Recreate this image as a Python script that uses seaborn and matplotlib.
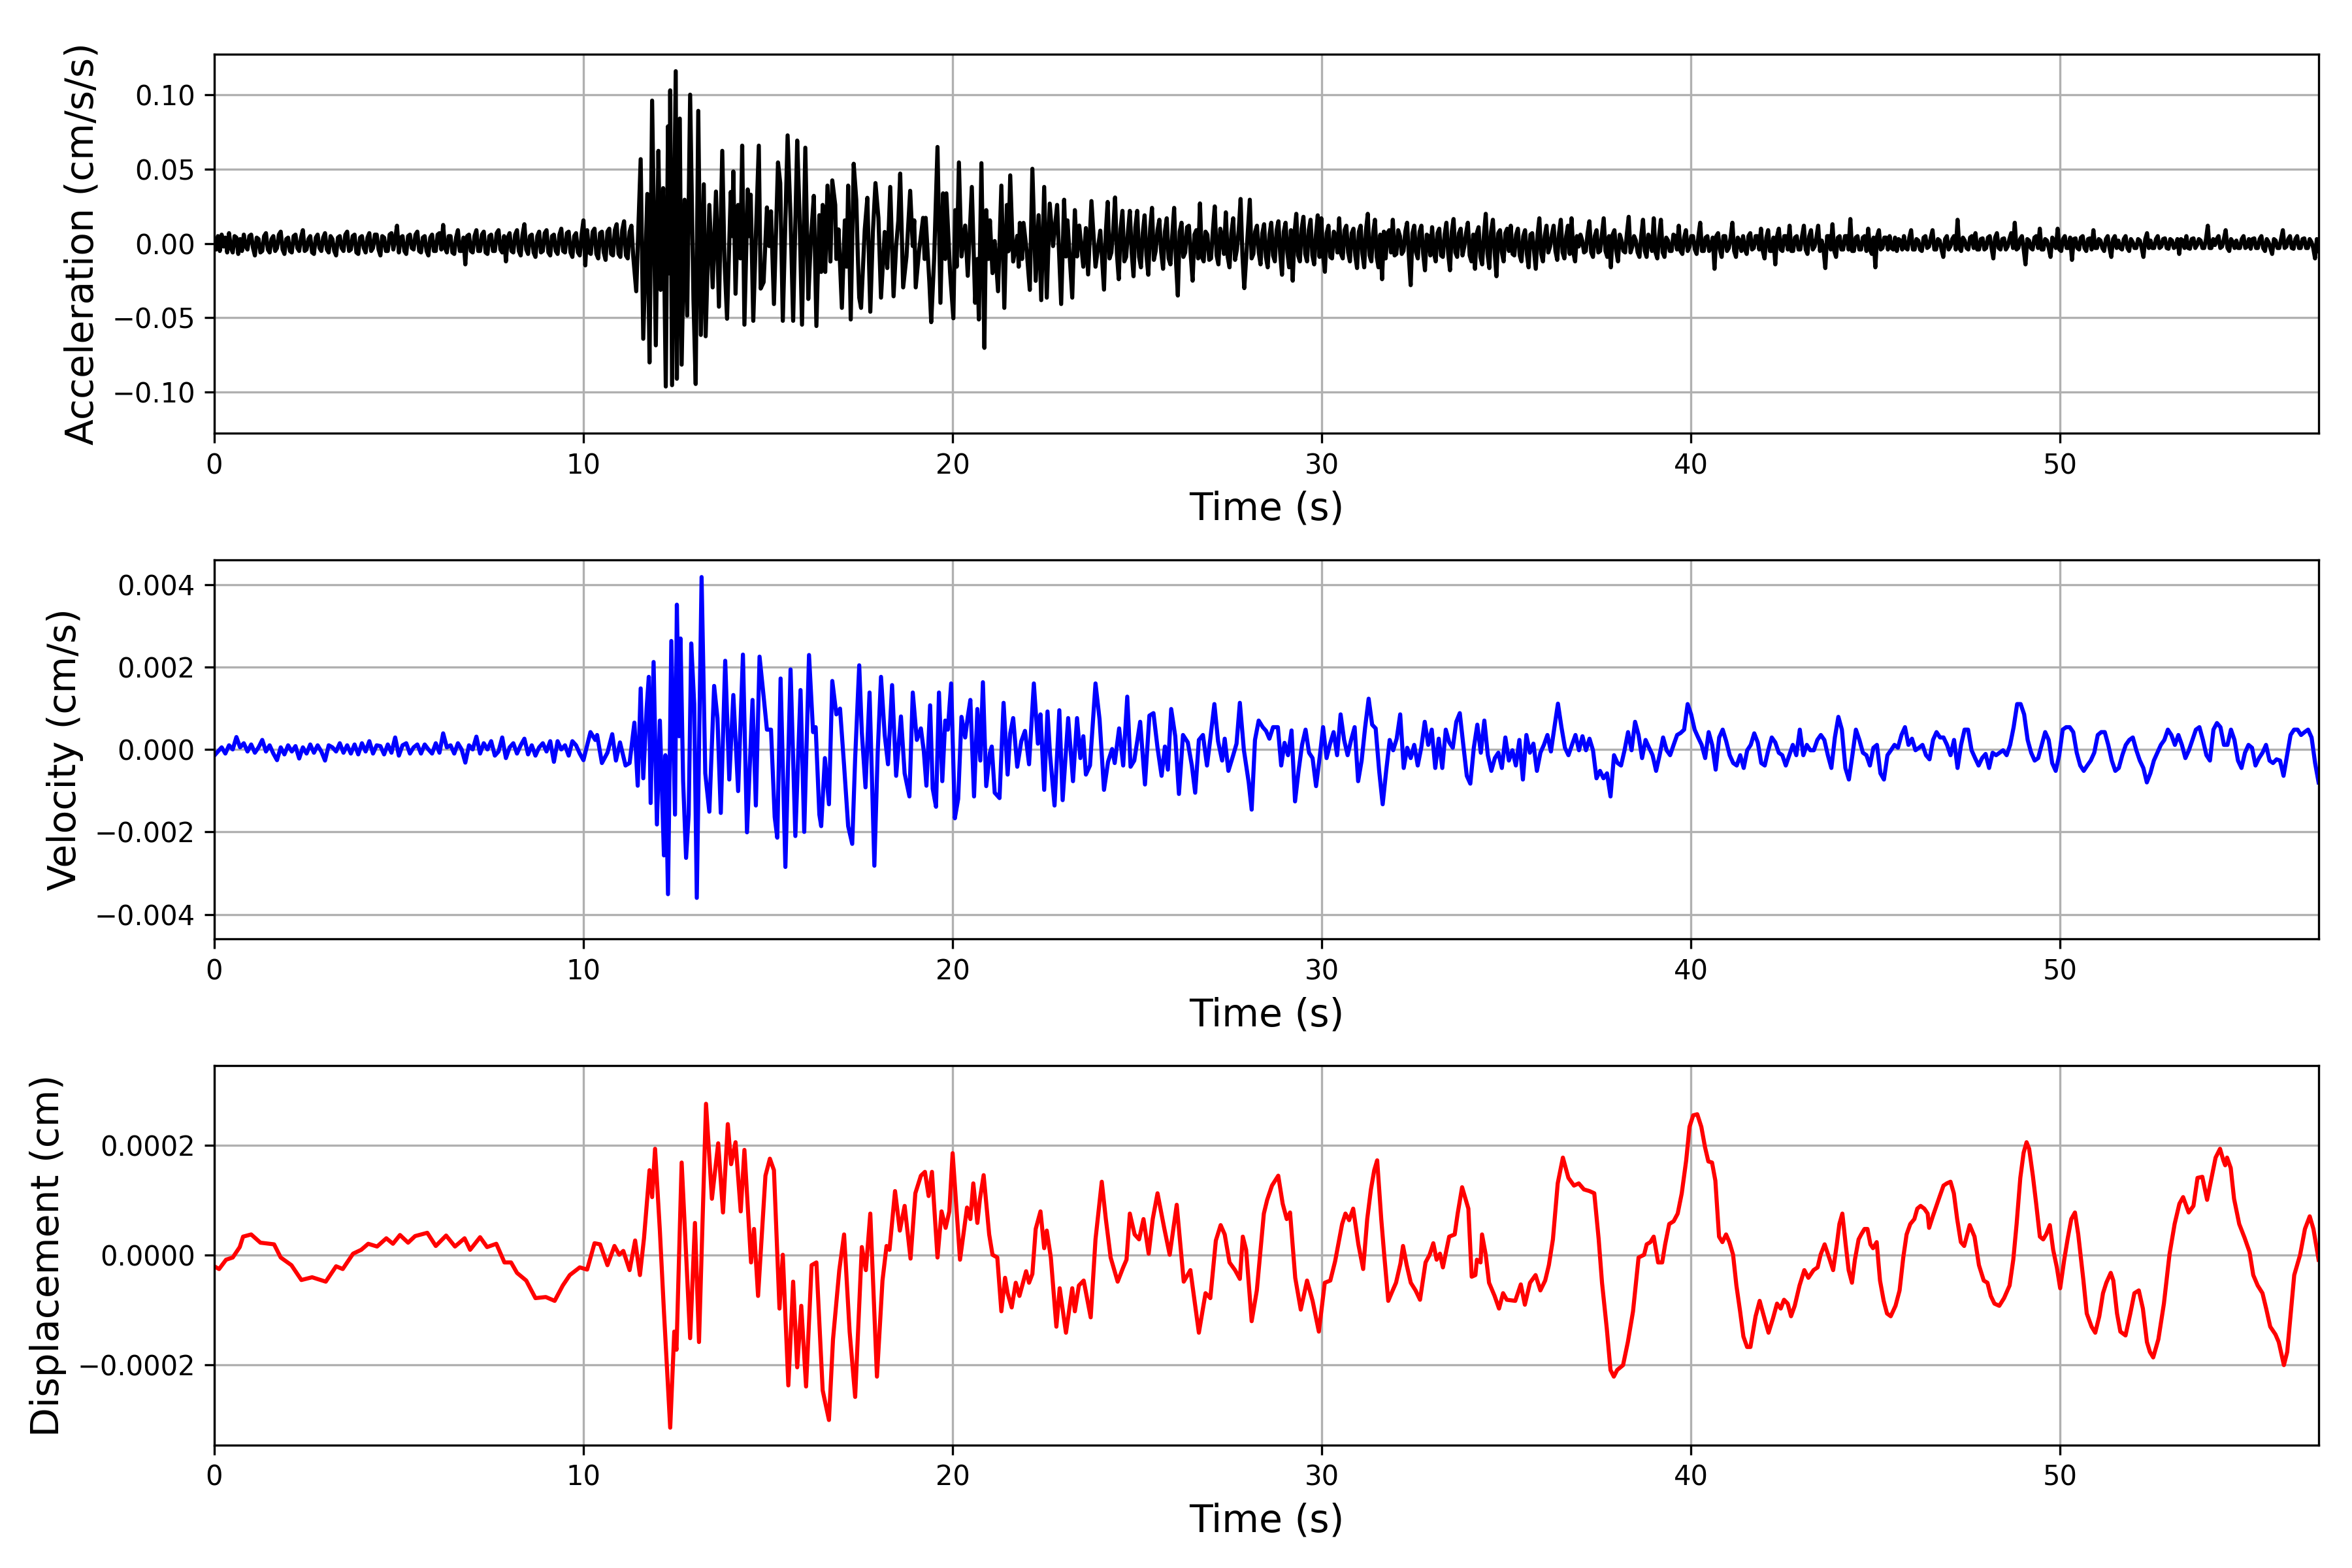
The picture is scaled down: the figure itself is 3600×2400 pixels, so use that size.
import numpy as np
import matplotlib
matplotlib.use("Agg")
import matplotlib.pyplot as plt
import seaborn as sns

# ---------------- acceleration (values in 0.01 cm/s/s) ----------------
# quiet part before the arrival, one value every 0.05 s from t = 0
acc_pre = [
    0.3, -0.4, 0.5, -0.5, 0.6, -0.2, 0.4, -0.6, 0.7, -0.3, -0.6, 0.5, 0.4, -0.7, 0.3, -0.5, 0.6, -0.2, -0.4, 0.5,
    0.6, -0.3, -0.8, 0.4, 0.3, -0.6, -0.5, 0.5, 0.7, -0.4, -0.6, 0.3, 0.5, -0.5, -0.3, 0.6, 0.8, -0.4, -0.7, 0.3,
    0.4, -0.5, -0.6, 0.5, 0.6, -0.3, -0.5, 0.4, 0.9, -0.5, -0.4, 0.3, 0.5, -0.6, -0.7, 0.4, 0.6, -0.3, -0.5, 0.4,
    0.7, -0.4, -0.6, 0.5, 0.3, -0.5, -0.8, 0.4, 0.5, -0.3, -0.5, 0.6, 0.8, -0.5, -0.4, 0.5, 0.6, -0.6, -0.7, 0.4,
    0.5, -0.3, -0.6, 0.4, 0.7, -0.5, -0.3, 0.6, 0.6, -0.4, -0.8, 0.5, 0.4, -0.5, -0.5, 0.6, 0.7, -0.4, 0.3, 1.2,
    -0.6, 0.4, 0.5, -0.5, -0.7, 0.5, 0.6, -0.3, -0.4, 0.6, 0.8, -0.5, -0.6, 0.4, 0.5, -0.5, -0.8, 0.4, 0.6, -0.5,
    -0.5, 0.6, 0.7, -0.4, 1.25, -0.3, -0.6, 0.5, 0.5, -0.6, -0.7, 0.4, 0.9, -0.5, -0.5, 0.4, -1.4, 0.5, 0.6, -0.5,
    -0.6, 0.5, 0.9, -0.5, -0.5, 0.6, 0.8, -0.6, -0.7, 0.5, 0.6, -0.5, -0.5, 0.7, 0.9, -0.4, -0.6, 0.5, -1.2, 0.4,
    0.7, -0.5, -0.6, 0.6, 0.9, -0.5, -0.8, 0.6, 1.3, -0.4, -0.7, 0.5, 0.6, -0.6, -0.9, 0.5, 0.8, -0.6, -0.5, 0.7,
    0.9, -0.6, -0.8, 0.5, 0.6, -0.5, -0.7, 0.6, 1.0, -0.5, -0.6, 0.7, 0.8, -0.6, -0.9, 0.5, 0.7, -0.6, -0.8, 0.6,
    1.56, -1.47, 0.9, -0.6, -0.7, 0.8, 1.0, -0.7, -1.0, 0.7, 0.8, -0.6, -1.1, 0.8, 1.0, -0.7, -0.8, 0.9, 1.3, -0.7,
    -0.9, 0.9, 1.5, -0.8, -1.0, 0.8, 1.2, -0.9,
]

# strong motion, (time, value) peaks
acc_event = [
    (11.43, -3.21), (11.55, 5.68), (11.62, -6.41), (11.73, 3.34), (11.79, -8.0),
    (11.86, 9.62), (11.96, -6.85), (12.03, 6.24), (12.09, -3.12), (12.16, 3.73),
    (12.23, -9.62), (12.29, 7.89), (12.32, -2.0), (12.35, 10.31), (12.40, -9.53),
    (12.50, 11.6), (12.53, -9.1), (12.61, 8.41), (12.66, -8.15), (12.74, 2.95),
    (12.81, -4.85), (12.89, 10.02), (12.98, -3.81), (13.04, -9.45), (13.11, 8.93),
    (13.18, -6.15), (13.26, 3.99), (13.31, -6.24), (13.41, 2.6), (13.5, -2.95),
    (13.59, 3.5), (13.67, -4.25), (13.76, 6.24), (13.82, -1.13), (13.89, -5.06),
    (13.99, 3.47), (14.03, 0.5), (14.06, 4.85), (14.12, -3.38), (14.19, 2.6),
    (14.25, -1.0), (14.3, 6.59), (14.36, -5.46), (14.45, 3.64), (14.49, 0.5),
    (14.53, 3.29), (14.6, -5.2), (14.67, 0.52), (14.75, 6.59), (14.8, -3.03),
    (14.88, -2.6), (14.97, 2.43), (15.03, -0.17), (15.08, 2.17), (15.16, -4.07),
    (15.27, 5.46), (15.33, 4.07), (15.4, -5.2), (15.53, 7.28), (15.61, 1.73),
    (15.68, -5.2), (15.79, 6.93), (15.85, 2.25), (15.92, -5.46), (16.01, 6.45),
    (16.09, -3.73), (16.16, 0.26), (16.24, 3.21), (16.31, -5.55), (16.39, 1.91),
    (16.44, -1.91), (16.48, 2.6), (16.55, -1.91), (16.61, 3.9), (16.69, -1.21),
    (16.74, 4.25), (16.82, 2.6), (16.85, -1.04), (16.91, 0.95), (17.0, -4.33),
    (17.08, 1.56), (17.13, -1.56), (17.17, 3.9), (17.24, -5.11), (17.32, 5.37),
    (17.39, 2.95), (17.43, -0.69), (17.47, -3.64), (17.52, -4.33), (17.62, 0.95),
    (17.69, 3.08), (17.77, -4.59), (17.84, 0.78), (17.91, 4.07), (17.99, 1.73),
    (18.06, -3.64), (18.16, 0.78), (18.23, -1.65), (18.31, 3.81), (18.4, -3.55),
    (18.47, -0.17), (18.53, 1.56), (18.58, 4.71), (18.66, -2.95), (18.75, -0.87),
    (18.85, 3.55), (18.92, -0.17), (18.96, 1.56), (19.0, -2.95), (19.09, -0.52),
    (19.2, 1.73), (19.24, -1.04), (19.27, 1.73), (19.37, -2.6), (19.42, -5.29),
    (19.5, -0.95), (19.59, 6.5), (19.67, -3.99), (19.74, 3.38), (19.8, -1.04),
    (19.83, 3.38), (19.93, -1.91), (20.02, -5.03), (20.07, 2.25), (20.11, -1.56),
    (20.17, 5.46), (20.24, -0.87), (20.34, 1.21), (20.41, -2.17), (20.52, 3.81),
    (20.61, -3.99), (20.67, -1.04), (20.71, -5.11), (20.78, 5.41), (20.86, -7.02),
    (20.91, 2.25), (20.97, -1.04), (21.01, 1.56), (21.08, -1.99), (21.14, 0.17),
    (21.23, -3.21), (21.32, 3.9), (21.4, -4.33), (21.47, 2.6), (21.51, -0.52),
    (21.56, 4.59), (21.64, -1.21), (21.75, 0.52), (21.79, -1.56), (21.82, 1.39),
    (21.88, -1.04), (21.92, 1.39), (22.01, -0.61), (22.09, -3.12), (22.16, 5.03),
    (22.25, -2.51), (22.33, 1.91), (22.4, -3.81), (22.48, 3.81), (22.55, -3.64),
    (22.63, 2.69), (22.72, -0.17), (22.83, 2.6), (22.89, -1.04), (22.94, -4.07),
    (23.02, 2.95), (23.07, -0.87), (23.11, 1.56), (23.24, -3.64), (23.31, 2.25),
    (23.37, -0.87), (23.43, 1.21), (23.54, -1.56), (23.61, 1.04), (23.67, -2.08),
    (23.76, 2.86), (23.87, -1.56), (24.0, 0.87),
]

# one value every 0.05 s from t = 24.1
acc_mid = [
    -3.1, 0.8, 2.8, -1.0, -0.6, 0.9, 3.1, -0.7, -2.4, 1.0, 2.2, -1.2, -0.9, 0.8, 2.2, -0.6, -2.2, 1.1, 2.2, -0.9,
    -1.6, 0.7, 1.9, -0.8, -2.1, 1.0, 2.4, -1.1, -0.5, 0.9, 1.6, -0.6, -1.7, 0.8, 1.7, -1.0, -1.4, 0.6, 2.4, -1.2,
    -3.5, 0.8, 1.4, -0.9, -0.6, 1.1, 1.2, -0.8, -2.5, 0.6, 0.9, -1.0, 2.7, -0.9, -1.2, 0.8, 0.6, -1.1, -1.0, 0.9,
    2.5, -0.8, -1.4, 1.0, 0.4, -0.7, 2.1, -0.9, -1.6, 0.7, 1.7, -1.1, -0.4, 0.9, 3.0, -0.8, -3.0,
]

# coda, evenly spaced from t = 28.05 to the end of the record
acc_tail = [
    2.95, -1.0, -0.7, 0.8, 1.2, -0.6, -1.4, 0.7, 1.3, -0.9, -1.6, 0.6, 1.4, -0.8, -1.2, 0.9, 1.5, -0.7, -2.1, 0.8,
    1.4, -0.6, -1.6, 0.9, -2.5, 0.7, 2.0, -0.8, -1.2, 1.0, 1.8, -0.7, -1.2, 0.9, 1.6, -0.8, -1.4, 0.6, 1.9, -0.9,
    1.7, -0.8, -1.9, 0.7, 1.2, -0.9, -1.0, 0.8, 0.5, -0.6, 1.7, -0.7, -1.0, 0.9, 1.2, -0.6, -1.2, 0.7, 1.0, -0.8,
    -1.65, 0.8, 1.2, -0.7, -1.6, 0.9, 2.0, -0.8, -1.2, 0.7, 1.6, -0.9, -1.6, 0.6, -2.4, 0.8, -1.0, 0.7, 0.9, -0.6,
    1.6, -0.8, -0.7, 0.9, 0.5, -0.7, -0.5, 0.8, 1.4, -0.9, -2.8, 0.7, 1.2, -0.6, -1.0, 0.8, 1.2, -0.7, -1.8, 0.6,
    0.5, -0.8, 1.1, -0.6, -1.2, 0.7, 1.0, -0.8, -0.9, 0.6, 1.4, -0.7, -1.8, 0.8, 1.65, -0.6, -0.9, 0.7, 1.0, -0.8,
    -0.2, 0.7, 1.4, -0.8, -1.2, 0.6, -1.7, 0.7, 1.1, -0.9, -1.4, 0.6, 2.0, -0.7, -1.65, 0.8, 1.6, -0.6, -2.2, 0.7,
    0.9, -0.6, -1.2, 0.7, 1.0, -0.5, 1.2, -0.7, -0.8, 0.6, 1.0, -0.8, -1.2, 0.5, 0.9, -0.7, -1.6, 0.6, 0.7, -0.5,
    -1.7, 0.6, 1.7, -0.7, -1.2, 0.5, 1.2, -0.6, -0.2, 0.6, 1.2, -0.5, -1.1, 0.7, 1.6, -0.6, -1.0, 0.5, 1.2, -0.7,
    1.7, -0.6, -1.2, 0.5, -0.2, 0.6, 0.2, -0.6, -0.5, 0.7, 1.5, -0.6, -0.9, 0.5, 0.9, -0.6, -0.5, 0.6, 1.7, -0.5,
    -0.9, 0.5, -1.6, 0.6, 0.9, -0.5, -1.2, 0.6, 0.2, -0.5, -0.6, 0.7, 1.8, -0.6, -0.2, 0.5, 0.2, -0.6, -0.9, 0.5,
    1.6, -0.5, -0.9, 0.6, 0.2, -0.5, 1.7, -0.6, -1.0, 0.5, 1.6, -0.6, -0.9, 0.4, 0.2, -0.5, -0.5, 0.6, 0.5, -0.4,
    1.2, -0.5, -0.7, 0.4, 0.9, -0.5, -0.2, 0.5, 0.5, -0.4, -0.7, 0.5, 1.4, -0.5, -0.5, 0.4, 0.5, -0.5, -0.2, 0.4,
    -1.7, 0.5, 0.7, -0.4, -0.9, 0.5, 0.5, -0.5, -0.3, 0.4, 1.4, -0.5, -0.9, 0.4, 0.2, -0.5, 0.5, -0.4, -0.7, 0.5,
    0.7, -0.4, -0.3, 0.5, 0.5, -0.4, 1.0, -0.5, -1.0, 0.4, 0.9, -0.5, -0.5, 0.4, -1.4, 0.5, 1.0, -0.4, -0.5, 0.5,
    0.5, -0.4, 1.2, -0.5, -0.5, 0.4, 0.5, -0.4, -0.4, 0.5, 1.2, -0.4, -0.7, 0.5, 0.9, -0.4, -0.2, 0.4, 1.2, -0.5,
    0.2, -0.4, -1.65, 0.5, 0.5, -0.4, 1.3, -0.5, -0.9, 0.4, 0.5, -0.4, -0.4, 0.5, 0.5, -0.4, 1.65, -0.5, -0.5, 0.4,
    0.5, -0.4, -0.4, 0.4, 0.5, -0.5, 1.0, -0.4, -0.7, 0.4, -1.6, 0.5, 0.9, -0.4, -0.3, 0.4, 0.4, -0.4, 0.5, -0.3,
    -0.4, 0.4, -0.5, 0.3, 0.2, -0.4, 0.5, -0.3, -0.4, 0.4, 0.9, -0.4, -0.4, 0.3, 0.2, -0.4, -0.5, 0.4, 0.5, -0.3,
    -0.2, 0.4, 0.9, -0.4, -0.4, 0.3, 0.2, -0.4, -0.9, 0.3, 0.5, -0.4, -0.2, 0.3, 0.5, -0.4, 1.6, -0.3, -0.5, 0.4,
    0.2, -0.3, -0.4, 0.4, 0.5, -0.3, 0.7, -0.4, -0.4, 0.3, 0.35, -0.4, -0.3, 0.4, 0.5, -0.3, -1.0, 0.4, 0.7, -0.3,
    -0.4, 0.3, 0.35, -0.4, -0.2, 0.3, 0.7, -0.3, 1.4, -0.4, -0.3, 0.3, 0.5, -0.4, -1.4, 0.3, 0.2, -0.3, -0.4, 0.4,
    0.5, -0.3, 1.0, -0.4, -0.4, 0.3, 0.2, -0.3, -0.9, 0.4, 0.2, -0.3, 1.0, -0.4, -0.5, 0.3, 0.5, -0.3, -0.3, 0.4,
    -1.1, 0.3, 0.35, -0.3, -0.4, 0.4, 0.5, -0.3, -0.5, 0.3, 0.35, -0.4, 0.9, -0.3, -0.3, 0.3, 0.2, -0.3, -0.5, 0.3,
    0.5, -0.3, -0.9, 0.3, 0.5, -0.3, 0.2, -0.3, -0.4, 0.3, 0.5, -0.3, -0.5, 0.3, 0.1, -0.3, -0.3, 0.3, 0.2, -0.3,
    -0.9, 0.3, 0.7, -0.3, 0.2, -0.3, -0.3, 0.3, 0.5, -0.3, -0.2, 0.3, 0.35, -0.3, -0.35, 0.3, 0.2, -0.3, -0.2, 0.3,
    -0.7, 0.3, 0.2, -0.3, 0.5, -0.3, -0.35, 0.3, 0.35, -0.3, -0.1, 0.3, 0.2, -0.3, -0.3, 0.3, 1.2, -0.3, -0.3, 0.3,
    -0.1, 0.3, 0.5, -0.3, -0.2, 0.3, 0.9, -0.3, -0.5, 0.3, 0.1, -0.3, 0.2, -0.3, -0.3, 0.3, 0.5, -0.3, -0.2, 0.3,
    -0.35, 0.3, 0.35, -0.3, -0.3, 0.3, 0.5, -0.3, -0.5, 0.3, 0.1, -0.3, -0.7, 0.3, 0.2, -0.3, -0.3, 0.3, 0.9, -0.3,
    -0.2, 0.3, 0.5, -0.3, -0.35, 0.3, 0.5, -0.3, -0.3, 0.3, 0.35, -0.3, -0.3, 0.3, 0.1, -0.3, -1.0, 0.3, -0.5,
]

# ---------------- velocity (values in 0.001 cm/s) ----------------
# one value every 0.1 s from t = 0
vel_pre = [
    -0.15, -0.05, 0.05, -0.1, 0.1, 0.0, 0.3, 0.05, 0.15, -0.05,
    0.12, -0.08, 0.05, 0.23, -0.05, 0.1, -0.1, -0.26, 0.05, -0.12,
    0.1, -0.05, 0.08, -0.22, 0.05, -0.1, 0.12, -0.08, 0.1, -0.05,
    -0.27, 0.1, 0.05, -0.05, 0.15, -0.08, 0.1, -0.1, 0.12, -0.12,
    0.15, -0.05, 0.2, -0.1, 0.1, 0.08, -0.12, 0.12, -0.08, 0.29,
    -0.15, 0.1, 0.15, -0.1, 0.05, 0.12, -0.1, 0.12, 0.0, -0.1,
    0.15, -0.08, 0.39, 0.05, 0.1, -0.1, 0.15, 0.0, -0.32, 0.1,
    0.0, 0.31, -0.1, 0.15, 0.0, 0.2, -0.15, -0.05, 0.29, -0.21,
    0.05, 0.15, -0.1, 0.1, 0.26, -0.12, 0.1, -0.15, 0.05, 0.15,
    -0.05, 0.2, -0.3, 0.2, 0.0, 0.1, -0.15, 0.2, 0.1, -0.1,
    -0.26,
]

vel_event = [
    (10.19, 0.42), (10.32, 0.23), (10.37, 0.35), (10.5, -0.33), (10.65, -0.08),
    (10.78, 0.37), (10.88, -0.27), (10.99, 0.17), (11.14, -0.39), (11.25, -0.33),
    (11.38, 0.65), (11.47, -0.88), (11.55, 1.48), (11.62, -0.70), (11.71, 0.98),
    (11.77, 1.76), (11.82, -1.30), (11.9, 2.12), (11.99, -1.82), (12.07, 0.70),
    (12.18, -2.57), (12.22, -0.14), (12.29, -3.51), (12.38, 2.63), (12.48, -1.58),
    (12.53, 3.51), (12.59, 0.32), (12.63, 2.69), (12.7, -0.77), (12.78, -2.63),
    (12.85, -1.58), (12.92, 2.57), (13.0, 1.10), (13.07, -3.60), (13.2, 4.18),
    (13.3, -0.58), (13.41, -1.51), (13.54, 1.54), (13.63, 0.76), (13.72, -1.54),
    (13.84, 2.15), (13.95, -0.73), (14.06, 1.32), (14.19, -1.01), (14.32, 2.30),
    (14.43, -2.01), (14.58, 1.20), (14.67, -1.36), (14.77, 2.25), (14.88, 1.29),
    (14.97, 0.48), (15.08, 0.48), (15.18, -1.64), (15.25, -2.14), (15.34, 1.72),
    (15.47, -2.85), (15.61, 1.94), (15.74, -2.10), (15.88, 1.44), (15.98, -2.0),
    (16.11, 2.29), (16.22, 0.42), (16.29, 0.54), (16.39, -1.58), (16.44, -1.86),
    (16.54, -0.21), (16.65, -1.33), (16.74, 1.66), (16.85, 0.85), (16.95, 0.99),
    (17.06, -0.39), (17.17, -1.86), (17.28, -2.29), (17.36, -0.21), (17.47, 2.04),
    (17.54, 0.42), (17.64, -0.92), (17.75, 1.38), (17.88, -2.82), (17.97, -0.08),
    (18.06, 1.76), (18.16, 0.35), (18.25, -0.36), (18.36, 1.56), (18.47, -0.64),
    (18.6, 0.80), (18.7, -0.58), (18.83, -1.14), (18.92, 1.38), (19.03, 0.23),
    (19.14, 0.51), (19.22, -0.05), (19.29, -0.88), (19.39, 1.07), (19.46, -0.95),
    (19.55, -1.39), (19.63, 1.38), (19.72, -0.77), (19.8, 0.70), (19.87, 0.48),
    (19.96, 1.60), (20.06, -1.67), (20.15, -1.20), (20.24, 0.79), (20.34, 0.29),
    (20.41, 0.79), (20.48, 1.20), (20.58, -1.14), (20.67, 0.98), (20.75, -0.27),
    (20.82, 1.63), (20.91, -0.89), (21.01, -0.08), (21.06, 0.07), (21.14, -1.05),
    (21.27, -1.18), (21.38, 1.13), (21.49, -0.61), (21.56, 0.39), (21.64, 0.76),
    (21.75, -0.42), (21.86, 0.20), (21.96, 0.45), (22.07, -0.36), (22.2, 1.60),
    (22.31, 0.14), (22.38, 0.85), (22.48, -0.98), (22.57, 0.92), (22.64, -0.14),
    (22.76, -1.36), (22.89, 0.95), (22.98, -1.23), (23.13, 0.76), (23.26, -0.77),
    (23.37, 0.76), (23.46, -0.21), (23.54, 0.32), (23.61, -0.61), (23.72, -0.39),
    (23.87, 1.60), (23.98, 0.73), (24.1, -0.98), (24.21, -0.30), (24.32, 0.01),
    (24.39, -0.33), (24.51, 0.51), (24.62, -0.39), (24.73, 1.28), (24.82, -0.42),
    (24.92, -0.27), (24.99, 0.14), (25.08, 0.67), (25.21, -0.85), (25.33, 0.82),
    (25.44, 0.88), (25.55, 0.04), (25.66, -0.64), (25.75, 0.07), (25.83, -0.49),
    (25.92, 0.98), (26.03, 0.32), (26.13, -1.08), (26.24, 0.35), (26.37, 0.17),
    (26.48, -0.39), (26.57, -1.05), (26.67, 0.23), (26.78, 0.35), (26.89, -0.39),
    (26.98, 0.26), (27.09, 1.10), (27.19, 0.20), (27.3, -0.27), (27.37, 0.26),
    (27.47, -0.52), (27.6, -0.14), (27.69, 0.14), (27.78, 1.13), (27.89, -0.02),
    (28.02, -0.80), (28.1, -1.46), (28.19, 0.23), (28.29, 0.70), (28.4, 0.54),
    (28.49, 0.45), (28.58, 0.26), (28.68, 0.54), (28.81, 0.54), (28.9, -0.39),
]

# evenly spaced from t = 28.99 to the end of the record
vel_tail = [
    0.16, -0.14, 0.46, -1.26, -0.52, 0.11, 0.48, -0.08, -0.21, -0.89,
    -0.21, 0.54, -0.21, 0.14, 0.42, -0.14, 0.85, 0.23, -0.14, 0.23,
    0.54, -0.77, -0.27, 0.54, 1.23, 0.60, 0.51, -0.52, -1.33, -0.52,
    0.23, -0.02, 0.26, 0.85, -0.45, 0.04, -0.21, 0.11, -0.39, 0.04,
    0.67, 0.11, 0.48, -0.45, 0.26, -0.45, 0.48, 0.17, 0.04, 0.67,
    0.88, 0.11, -0.64, -0.83, 0.04, 0.60, -0.08, 0.70, -0.14, -0.52,
    -0.21, -0.08, -0.45, 0.29, -0.27, -0.02, -0.39, 0.23, -0.73, 0.35,
    -0.08, 0.14, -0.52, -0.08, 0.11, 0.35, -0.05, 0.54, 1.11, 0.54,
    0.04, -0.14, 0.11, 0.35, -0.02, 0.32, -0.02, 0.26, -0.02, -0.70,
    -0.52, -0.70, -0.58, -1.14, -0.14, -0.33, -0.39, -0.02, 0.42, -0.02,
    0.67, 0.35, -0.21, 0.23, 0.04, -0.14, -0.52, -0.14, 0.29, -0.02,
    -0.14, 0.11, 0.35, 0.40, 0.48, 1.10, 0.85, 0.48, 0.29, 0.11,
    -0.21, 0.42, 0.11, -0.49, 0.29, 0.48, 0.20, -0.14, -0.33, -0.39,
    -0.14, -0.45, -0.02, 0.11, 0.39, 0.17, -0.33, -0.39, -0.02, 0.29,
    0.17, -0.08, -0.14, -0.39, -0.14, 0.11, -0.14, 0.48, -0.14, 0.11,
    -0.02, -0.02, 0.23, 0.35, 0.23, -0.14, -0.45, 0.29, 0.79, 0.48,
    -0.45, -0.73, -0.14, 0.48, 0.23, -0.08, -0.14, -0.39, 0.04, 0.11,
    -0.58, -0.73, -0.14, -0.02, 0.11, 0.04, 0.35, 0.54, 0.11, 0.26,
    -0.02, 0.04, 0.11, -0.14, -0.24, 0.23, 0.42, 0.29, 0.29, 0.11,
    -0.14, 0.23, -0.45, 0.11, 0.48, 0.48, -0.02, -0.21, -0.39, -0.21,
    -0.11, -0.45, -0.08, -0.14, -0.08, -0.02, -0.14, 0.11, 0.54, 1.10,
    1.10, 0.85, 0.23, -0.08, -0.27, -0.21, 0.11, 0.42, 0.23, -0.33,
    -0.52, -0.14, 0.48, 0.54, 0.54, 0.42, -0.08, -0.39, -0.52, -0.39,
    -0.27, -0.08, 0.35, 0.42, 0.42, 0.11, -0.27, -0.52, -0.45, -0.14,
    0.11, 0.23, 0.29, -0.02, -0.27, -0.45, -0.80, -0.58, -0.27, -0.08,
    0.11, 0.23, 0.48, 0.35, 0.11, 0.35, 0.11, -0.21, -0.02, 0.23,
    0.48, 0.54, 0.23, -0.14, -0.27, 0.48, 0.64, 0.54, 0.11, 0.11,
    0.48, 0.23, -0.27, -0.45, -0.08, 0.11, 0.04, -0.39, -0.21, -0.08,
    0.11, -0.27, -0.33, -0.24, -0.27, -0.64, -0.14, 0.35, 0.48, 0.48,
    0.35, 0.42, 0.48, 0.29, -0.33, -0.80,
]

# ---------------- displacement (values in 0.0001 cm) ----------------
disp_pts = [
    (0.0, -0.20), (0.13, -0.25), (0.32, -0.08), (0.5, -0.04), (0.69, 0.15),
    (0.78, 0.34), (1.0, 0.38), (1.25, 0.23), (1.62, 0.20), (1.8, -0.04),
    (2.09, -0.18), (2.36, -0.45), (2.65, -0.40), (3.02, -0.48), (3.3, -0.20),
    (3.48, -0.25), (3.76, 0.03), (3.98, 0.10), (4.17, 0.21), (4.41, 0.16),
    (4.66, 0.31), (4.84, 0.21), (5.03, 0.37), (5.25, 0.23), (5.44, 0.35),
    (5.77, 0.41), (6.0, 0.17), (6.28, 0.36), (6.52, 0.16), (6.78, 0.31),
    (6.93, 0.10), (7.2, 0.33), (7.39, 0.15), (7.64, 0.21), (7.86, -0.13),
    (8.04, -0.13), (8.2, -0.32), (8.45, -0.46), (8.7, -0.78), (8.98, -0.76),
    (9.22, -0.83), (9.44, -0.55), (9.63, -0.36), (9.9, -0.22), (10.1, -0.26),
    (10.3, 0.22), (10.45, 0.20), (10.65, -0.18), (10.84, 0.17), (10.97, 0.01),
    (11.08, 0.08), (11.25, -0.27), (11.4, 0.27), (11.53, -0.36), (11.64, 0.31),
    (11.79, 1.55), (11.86, 1.06), (11.94, 1.94), (12.07, 0.45), (12.18, -1.02),
    (12.35, -3.14), (12.46, -1.39), (12.52, -1.72), (12.66, 1.69), (12.89, -1.51),
    (13.02, 0.59), (13.13, -1.58), (13.32, 2.76), (13.48, 1.03), (13.65, 2.04),
    (13.78, 0.78), (13.91, 2.39), (14.0, 1.66), (14.12, 2.06), (14.26, 0.80),
    (14.36, 1.92), (14.54, -0.13), (14.62, 0.48), (14.73, -0.74), (14.93, 1.45),
    (15.05, 1.76), (15.16, 1.55), (15.31, -0.97), (15.4, 0.01), (15.55, -2.37),
    (15.68, -0.48), (15.79, -2.04), (15.9, -0.92), (16.03, -2.39), (16.18, -0.18),
    (16.31, -0.13), (16.48, -2.46), (16.65, -3.0), (16.76, -1.53), (16.93, -0.27),
    (17.06, 0.38), (17.21, -1.39), (17.36, -2.58), (17.54, 0.15), (17.65, -0.27),
    (17.77, 0.76), (17.95, -2.21), (18.1, -0.46), (18.21, 0.17), (18.29, 0.10),
    (18.44, 1.17), (18.57, 0.45), (18.7, 0.90), (18.86, -0.06), (18.99, 1.13),
    (19.14, 1.45), (19.25, 1.52), (19.35, 1.08), (19.44, 1.52), (19.59, -0.04),
    (19.7, 0.80), (19.81, 0.50), (19.91, 0.80), (20.0, 1.86), (20.2, -0.08),
    (20.39, 0.87), (20.48, 0.66), (20.56, 1.31), (20.67, 0.59), (20.74, 1.03),
    (20.84, 1.46), (20.99, 0.38), (21.08, 0.01), (21.21, -0.04), (21.32, -1.02),
    (21.42, -0.41), (21.49, -0.69), (21.6, -0.95), (21.71, -0.50), (21.81, -0.74),
    (21.99, -0.29), (22.07, -0.50), (22.16, -0.34), (22.25, 0.48), (22.38, 0.80),
    (22.48, 0.13), (22.55, 0.45), (22.66, -0.04), (22.81, -1.30), (22.9, -0.60),
    (23.07, -1.41), (23.24, -0.60), (23.31, -1.02), (23.42, -0.55), (23.55, -0.46),
    (23.74, -1.13), (23.87, 0.29), (24.04, 1.34), (24.15, 0.66), (24.28, -0.04),
    (24.47, -0.48), (24.62, -0.22), (24.71, -0.08), (24.8, 0.76), (24.93, 0.38),
    (25.05, 0.29), (25.17, 0.66), (25.31, 0.03), (25.42, 0.66), (25.55, 1.13),
    (25.73, 0.50), (25.88, 0.01), (26.07, 0.92), (26.26, -0.48), (26.44, -0.27),
    (26.67, -1.41), (26.85, -0.69), (26.98, -0.78), (27.13, 0.27), (27.26, 0.55),
    (27.37, 0.38), (27.5, -0.13), (27.65, -0.27), (27.78, -0.43), (27.86, 0.34),
    (27.95, 0.10), (28.1, -1.20), (28.24, -0.64), (28.43, 0.76), (28.52, 1.01),
    (28.65, 1.27), (28.82, 1.45), (28.94, 0.94), (29.05, 0.66), (29.14, 0.78),
    (29.28, -0.41), (29.43, -0.99), (29.6, -0.46), (29.75, -0.83), (29.92, -1.39),
    (30.08, -0.50), (30.23, -0.46), (30.36, -0.11), (30.55, 0.57), (30.64, 0.76),
    (30.74, 0.64), (30.85, 0.85), (30.99, 0.20), (31.12, -0.25), (31.23, 0.66),
    (31.33, 1.20), (31.42, 1.55), (31.5, 1.73), (31.61, 0.66), (31.69, 0.01),
    (31.8, -0.83), (31.9, -0.67), (32.01, -0.50), (32.13, -0.15), (32.2, 0.17),
    (32.3, -0.18), (32.41, -0.50), (32.54, -0.64), (32.66, -0.81), (32.81, -0.13),
    (32.92, 0.01), (33.02, 0.22), (33.11, -0.08), (33.2, 0.03), (33.28, -0.22),
    (33.45, 0.34), (33.6, 0.38), (33.68, 0.76), (33.8, 1.24), (33.97, 0.85),
    (34.06, -0.39), (34.16, -0.36), (34.2, -0.08), (34.3, -0.13), (34.34, 0.38),
    (34.44, 0.01), (34.53, -0.50), (34.68, -0.74), (34.8, -0.97), (34.91, -0.69),
    (35.01, -0.81), (35.24, -0.83), (35.39, -0.53), (35.5, -0.90), (35.64, -0.50),
    (35.79, -0.36), (35.92, -0.64), (36.05, -0.46), (36.15, -0.18), (36.26, 0.29),
    (36.39, 1.31), (36.53, 1.78), (36.68, 1.41), (36.83, 1.27), (36.96, 1.31),
    (37.1, 1.20), (37.25, 1.17), (37.38, 1.13), (37.5, 0.29), (37.59, -0.50),
    (37.72, -1.34), (37.82, -2.09), (37.91, -2.21), (38.0, -2.09), (38.16, -2.0),
    (38.29, -1.58), (38.43, -1.02), (38.58, -0.04), (38.73, 0.01), (38.8, 0.20),
    (38.9, 0.24), (38.99, 0.34), (39.11, -0.13), (39.22, -0.13), (39.3, 0.20),
    (39.41, 0.57), (39.53, 0.62), (39.64, 0.76), (39.75, 1.13), (39.87, 1.73),
    (39.96, 2.34), (40.06, 2.55), (40.17, 2.57), (40.28, 2.34), (40.38, 1.97),
    (40.47, 1.71), (40.57, 1.69), (40.66, 1.36), (40.76, 0.34), (40.85, 0.24),
    (40.95, 0.38), (41.04, 0.24), (41.14, 0.01), (41.23, -0.55), (41.33, -1.02),
    (41.42, -1.48), (41.52, -1.67), (41.61, -1.67), (41.75, -1.11), (41.86, -0.83),
    (41.99, -1.15), (42.1, -1.41), (42.22, -1.15), (42.33, -0.88), (42.43, -0.97),
    (42.52, -0.81), (42.62, -0.88), (42.71, -1.11), (42.81, -0.92), (42.94, -0.55),
    (43.07, -0.27), (43.18, -0.41), (43.32, -0.27), (43.43, -0.22), (43.51, 0.01),
    (43.62, 0.20), (43.74, -0.04), (43.85, -0.27), (43.95, 0.20), (44.02, 0.57),
    (44.1, 0.76), (44.19, 0.20), (44.27, -0.27), (44.36, -0.50), (44.44, -0.08),
    (44.54, 0.29), (44.61, 0.38), (44.7, 0.48), (44.78, 0.48), (44.86, 0.20),
    (44.93, 0.13), (45.03, 0.24), (45.12, -0.46), (45.22, -0.83), (45.31, -1.06),
    (45.41, -1.11), (45.54, -0.92), (45.65, -0.64), (45.75, -0.04), (45.84, 0.38),
    (45.94, 0.57), (46.05, 0.66), (46.13, 0.85), (46.22, 0.90), (46.32, 0.85),
    (46.41, 0.76), (46.45, 0.50), (46.55, 0.71), (46.74, 1.08), (46.84, 1.27),
    (46.93, 1.31), (47.03, 1.34), (47.12, 1.13), (47.21, 0.66), (47.31, 0.24),
    (47.4, 0.17), (47.55, 0.55), (47.68, 0.34), (47.8, -0.18), (47.93, -0.46),
    (48.03, -0.50), (48.12, -0.74), (48.22, -0.88), (48.35, -0.92), (48.48, -0.78),
    (48.63, -0.55), (48.73, -0.08), (48.82, 0.57), (48.92, 1.41), (49.01, 1.87),
    (49.09, 2.06), (49.16, 1.94), (49.26, 1.45), (49.35, 0.94), (49.45, 0.34),
    (49.54, 0.29), (49.62, 0.38), (49.72, 0.55), (49.81, 0.10), (49.91, -0.22),
    (50.0, -0.60), (50.11, -0.08), (50.2, 0.29), (50.3, 0.66), (50.4, 0.78),
    (50.49, 0.38), (50.63, -0.46), (50.72, -1.06), (50.85, -1.30), (50.95, -1.41),
    (51.06, -1.11), (51.16, -0.69), (51.25, -0.50), (51.37, -0.32), (51.44, -0.46),
    (51.54, -1.06), (51.63, -1.39), (51.77, -1.46), (51.9, -1.06), (52.01, -0.69),
    (52.13, -0.64), (52.24, -0.97), (52.35, -1.58), (52.43, -1.76), (52.52, -1.86),
    (52.66, -1.53), (52.81, -0.88), (52.96, 0.01), (53.1, 0.57), (53.23, 0.94),
    (53.33, 1.06), (53.48, 0.78), (53.61, 0.90), (53.72, 1.41), (53.85, 1.43),
    (53.98, 1.01), (54.1, 1.41), (54.21, 1.78), (54.33, 1.94), (54.42, 1.73),
    (54.47, 1.64), (54.52, 1.78), (54.62, 1.59), (54.71, 1.03), (54.85, 0.57),
    (55.0, 0.31), (55.13, 0.06), (55.23, -0.36), (55.35, -0.55), (55.48, -0.69),
    (55.58, -0.97), (55.69, -1.30), (55.83, -1.44), (55.92, -1.58), (56.06, -2.0),
    (56.15, -1.76), (56.25, -1.02), (56.34, -0.36), (56.5, 0.01), (56.63, 0.48),
    (56.76, 0.71), (56.86, 0.48), (57.0, -0.08),
]

t_end = 57.0

# assemble the three records
ev_t, ev_a = zip(*acc_event)
t_acc = np.concatenate([
    np.arange(len(acc_pre)) * 0.05,
    ev_t,
    24.1 + np.arange(len(acc_mid)) * 0.05,
    np.linspace(28.05, t_end, len(acc_tail)),
])
acc = np.concatenate([acc_pre, ev_a, acc_mid, acc_tail]) * 1e-2

vt, vv = zip(*vel_event)
t_vel = np.concatenate([
    np.arange(len(vel_pre)) * 0.1,
    vt,
    np.linspace(28.99, t_end, len(vel_tail)),
])
vel = np.concatenate([vel_pre, vv, vel_tail]) * 1e-3

dt_, dd = zip(*disp_pts)
t_disp = np.array(dt_)
disp = np.array(dd) * 1e-4

# ---------------- figure ----------------
fig, axes = plt.subplots(3, 1, figsize=(12, 8), dpi=300)
fig.subplots_adjust(left=0.0911, right=0.9858, top=0.9656, bottom=0.0785, hspace=0.334)

panels = [
    (t_acc, acc, "k", "Acceleration (cm/s/s)"),
    (t_vel, vel, "b", "Velocity (cm/s)"),
    (t_disp, disp, "r", "Displacement (cm)"),
]

for ax, (tt, yy, col, lab) in zip(axes, panels):
    sns.lineplot(x=tt, y=yy, ax=ax, color=col, linewidth=1.5,
                 estimator=None, sort=False)
    lim = 1.1 * np.abs(yy).max()
    ax.set_ylim(-lim, lim)
    ax.set_xlim(0, t_end)
    ax.grid(True)
    ax.set_xlabel("Time (s)", fontsize=14)
    ax.set_ylabel(lab, fontsize=14)

fig.savefig("out.png", dpi=300)
